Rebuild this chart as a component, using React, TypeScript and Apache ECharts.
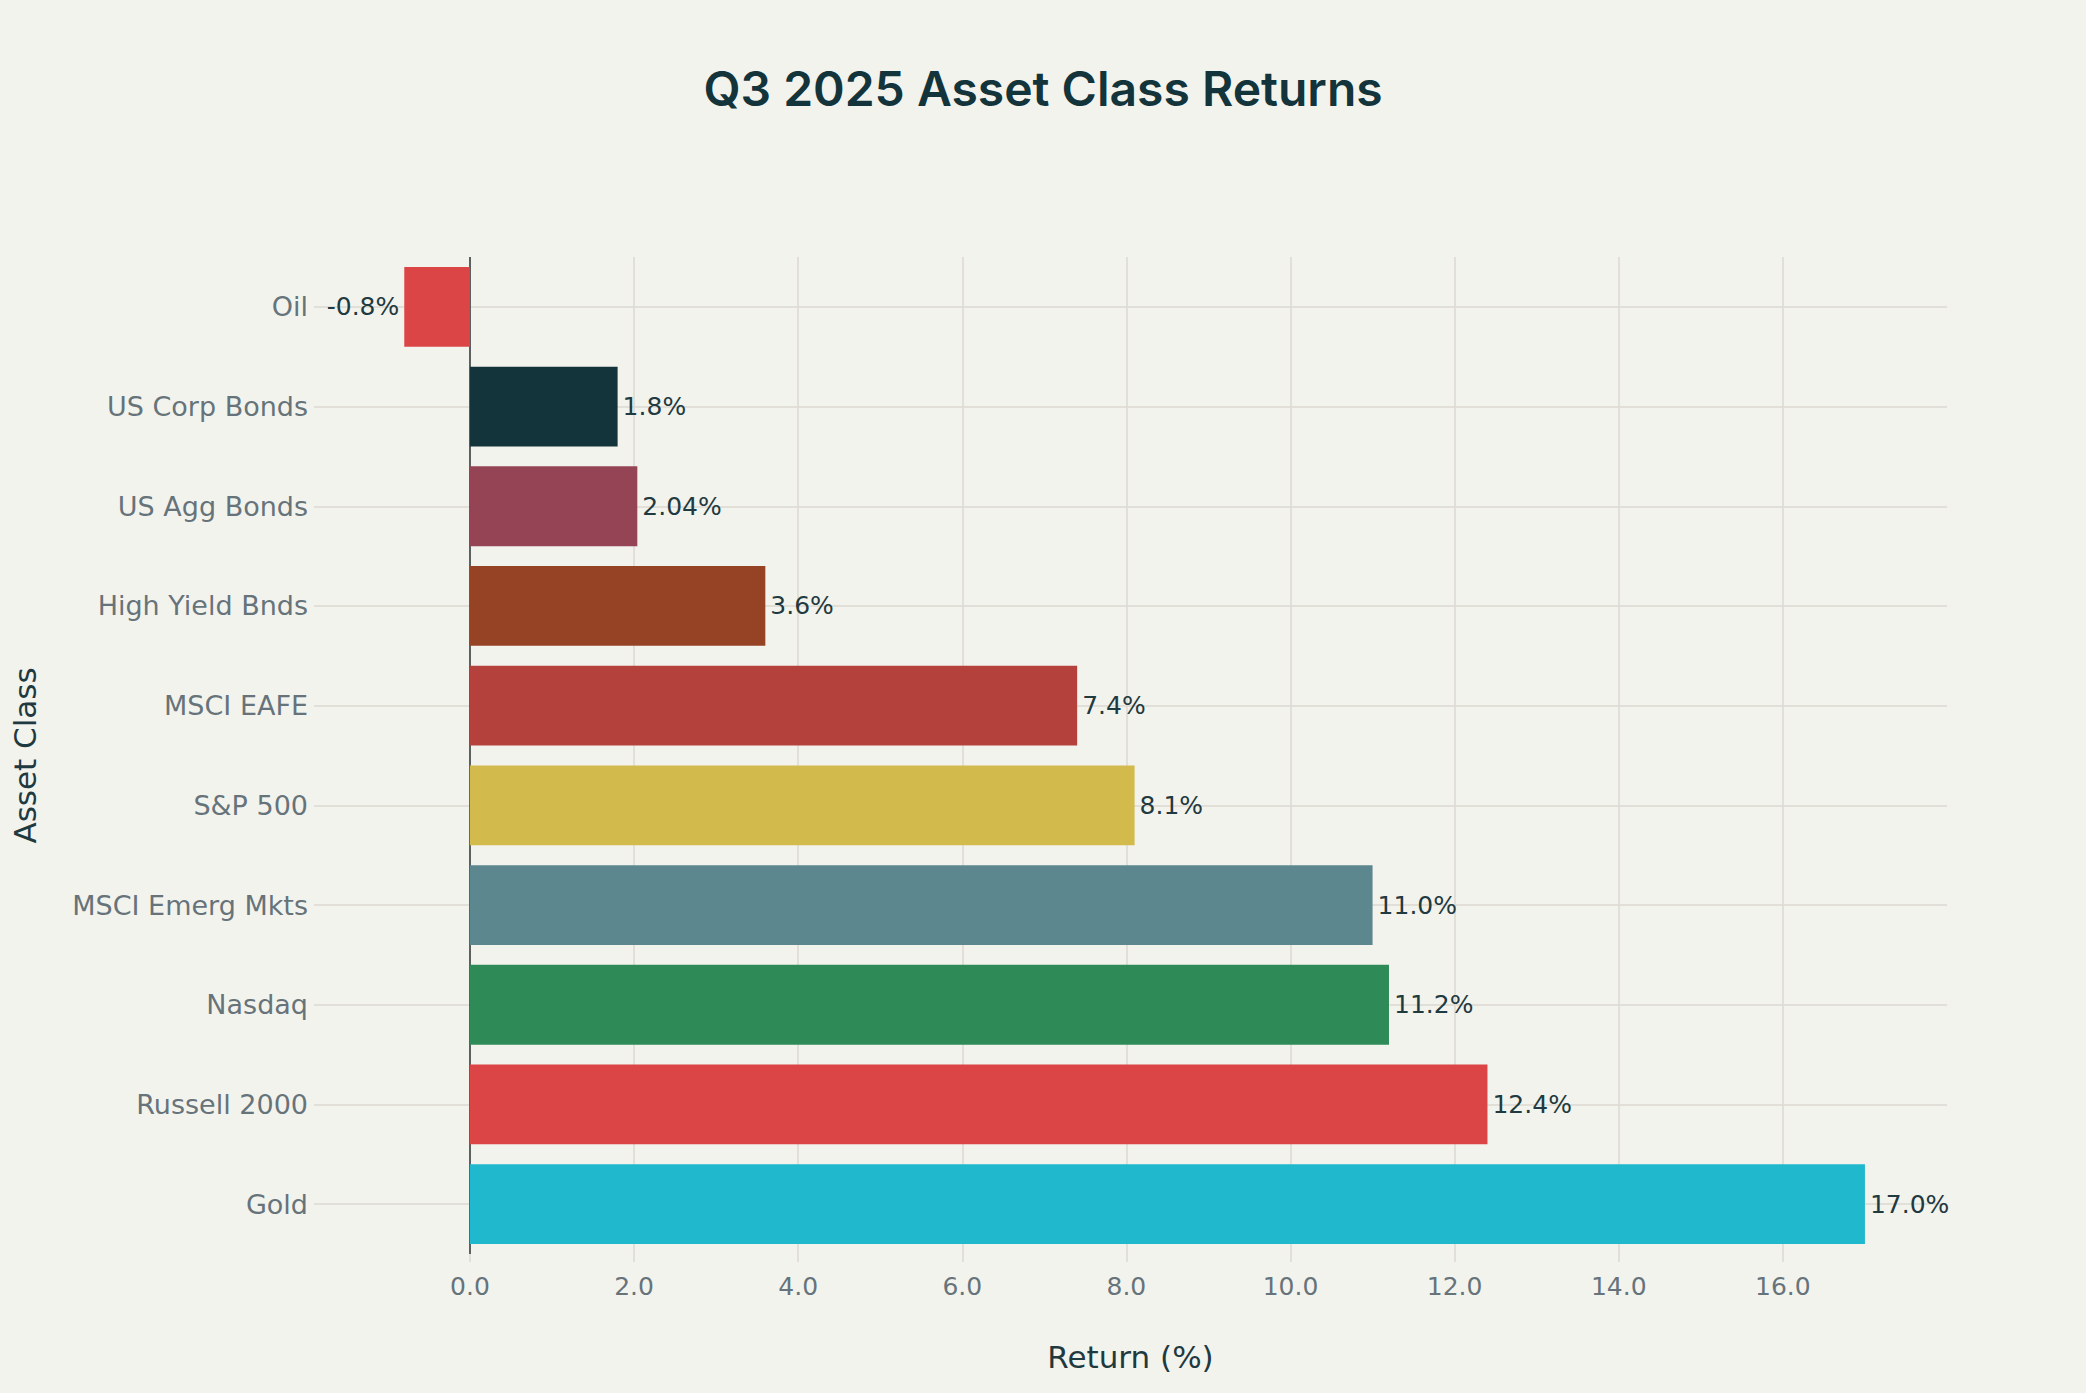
import React, { useEffect, useRef } from "react";
import * as echarts from "echarts";

// Categories listed top to bottom as in the picture
const categories = [
  "Oil",
  "US Corp Bonds",
  "US Agg Bonds",
  "High Yield Bnds",
  "MSCI EAFE",
  "S&P 500",
  "MSCI Emerg Mkts",
  "Nasdaq",
  "Russell 2000",
  "Gold",
];
const returns = [-0.8, 1.8, 2.04, 3.6, 7.4, 8.1, 11.0, 11.2, 12.4, 17.0];
const barColors = [
  "#DB4545",
  "#13343B",
  "#944454",
  "#964325",
  "#B4413C",
  "#D2BA4C",
  "#5D878F",
  "#2E8B57",
  "#DB4545",
  "#1FB8CD",
];
const xTicks = [0, 2, 4, 6, 8, 10, 12, 14, 16];
const xMin = -1.9;
const xMax = 18;

const titleText = "Q3 2025 Asset Class Returns";
const xName = "Return (%)";
const yName = "Asset Class";

const FONT = "DejaVu Sans";
const BG = "#F3F3EE";

const fmtPct = (v: number) => {
  const t = v * 10;
  return (Math.abs(t - Math.round(t)) < 1e-9 ? v.toFixed(1) : String(v)) + "%";
};

export default function App() {
  const ref = useRef<HTMLDivElement>(null);

  useEffect(() => {
    document.body.style.margin = "0";
    document.body.style.background = BG;
    if (!ref.current) return;
    const chart = echarts.init(ref.current, undefined, { renderer: "svg" });
    chart.setOption({
      animation: false,
      backgroundColor: BG,
      title: {
        text: titleText,
        left: "center",
        top: 59,
        textStyle: {
          fontFamily: "Inter",
          fontWeight: 600,
          fontSize: 48,
          color: "#13343B",
        },
      },
      grid: {
        left: 314,
        right: 139,
        top: 257,
        bottom: 139,
        containLabel: false,
        outerBoundsMode: "none",
      },
      xAxis: {
        type: "value",
        min: xMin,
        max: xMax,
        name: xName,
        nameLocation: "middle",
        nameGap: 87,
        nameTextStyle: { fontFamily: FONT, fontSize: 31, color: "#1f3940" },
        axisLine: { show: false },
        axisTick: {
          show: true,
          length: 8,
          customValues: xTicks,
          lineStyle: { color: "#dcd9d2", width: 1.5 },
        },
        axisLabel: {
          customValues: xTicks,
          formatter: (v: number) => v.toFixed(1),
          fontFamily: FONT,
          fontSize: 25,
          color: "#67737a",
          margin: 20,
        },
        splitLine: {
          show: true,
          lineStyle: { color: "#dcd9d2", width: 1.5, type: "solid" },
        },
      },
      yAxis: {
        type: "category",
        inverse: true,
        data: categories,
        name: yName,
        nameLocation: "middle",
        nameGap: 274,
        nameTextStyle: { fontFamily: FONT, fontSize: 31, color: "#1f3940" },
        axisLine: { show: false },
        axisTick: { show: false },
        splitLine: { show: false },
        axisLabel: {
          fontFamily: FONT,
          fontSize: 27,
          color: "#67737a",
          margin: 6,
        },
      },
      series: [
        {
          type: "bar",
          barCategoryGap: "20%",
          data: returns.map((v, i) => ({
            value: v,
            itemStyle: { color: barColors[i] },
            label: { position: v < 0 ? "left" : "right" },
          })),
          label: {
            show: true,
            formatter: (p: any) => fmtPct(p.value),
            fontFamily: FONT,
            fontSize: 25,
            color: "#1f3a40",
            distance: 5,
          },
          markLine: {
            silent: true,
            z: 1,
            symbol: ["none", "none"],
            label: { show: false },
            emphasis: { disabled: true },
            lineStyle: { color: "#dcd9d2", width: 1.5, type: "solid" },
            data: [
              ...categories.map((c) => ({ yAxis: c })),
              { xAxis: 0, lineStyle: { color: "#5b6163", width: 2, type: "solid" } },
            ],
          },
        },
      ],
    });
    return () => chart.dispose();
  }, []);

  return <div ref={ref} style={{ width: 2086, height: 1393, background: BG }} />;
}
